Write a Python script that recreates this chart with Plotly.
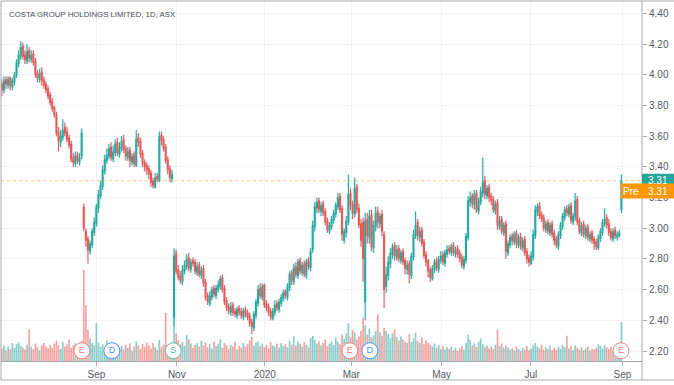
import plotly.graph_objects as go

# ---------------- data (daily bars, Jul 2019 - Sep 2020) ----------------
opens = [
 3.94,3.90,3.97,3.93,3.98,3.92,3.95,4.00,4.07,4.12,
 4.19,4.13,4.09,4.16,4.10,4.14,4.09,4.01,3.97,4.02,
 3.97,3.94,3.91,3.87,3.83,3.79,3.74,3.63,3.56,3.59,
 3.66,3.63,3.59,3.55,3.46,3.42,3.48,3.43,3.47,3.14,
 2.98,2.93,2.85,2.89,2.97,3.03,3.13,3.21,3.27,3.37,
 3.44,3.47,3.53,3.45,3.49,3.56,3.48,3.52,3.58,3.52,
 3.46,3.51,3.43,3.48,3.41,3.59,3.57,3.49,3.43,3.41,
 3.39,3.36,3.31,3.27,3.34,3.31,3.61,3.58,3.53,3.45,
 3.39,3.32,
 2.42,
 2.84,2.73,2.69,2.65,2.72,2.75,2.81,2.73,2.79,2.78,
 2.71,2.76,2.69,2.74,2.65,2.56,2.51,2.55,2.61,2.56,
 2.60,2.62,2.68,2.61,2.53,2.49,2.45,2.50,2.46,2.43,
 2.48,2.46,2.42,2.47,2.45,2.43,2.39,2.35,2.43,2.51,
 2.61,2.55,2.63,2.51,2.49,2.46,2.41,2.45,2.51,2.47,
 2.51,2.54,2.59,2.55,2.61,2.71,2.65,2.75,2.69,2.79,
 2.71,2.77,2.69,2.79,2.74,2.86,3.01,3.13,3.18,3.11,
 3.16,3.11,3.05,2.98,3.01,3.05,3.09,3.14,3.21,3.13,
 2.92,2.97,3.04,3.23,3.16,3.09,3.27,3.13,3.03,3.04,
 2.52,3.06,2.94,3.09,2.87,3.01,3.11,3.03,3.09,2.96,
 2.62,2.69,2.77,2.83,2.89,2.81,2.87,2.79,2.85,2.79,
 2.73,2.77,2.69,2.81,2.95,3.04,2.94,2.99,2.91,2.83,
 2.79,2.73,2.67,2.73,2.79,2.73,2.79,2.83,2.77,2.83,
 2.87,2.84,2.89,2.83,2.87,2.84,2.81,2.75,2.79,2.94,
 3.17,3.21,3.15,3.23,3.11,3.17,3.23,3.31,3.21,3.27,
 3.21,3.19,3.11,3.17,3.01,3.06,2.97,3.03,2.84,2.89,
 2.95,2.91,2.97,2.89,2.95,2.87,2.93,2.85,2.81,2.77,
 2.81,2.95,3.11,3.15,3.09,3.07,2.99,3.04,2.97,3.03,
 2.97,2.93,2.88,2.95,3.01,3.07,3.13,3.09,3.15,3.04,
 3.07,3.19,3.05,2.97,3.03,2.95,3.01,2.93,2.97,2.93,
 2.91,2.87,2.93,2.97,3.03,3.07,3.03,2.98,2.93,2.99,
 2.94,2.95,3.12,
]
highs = [
 3.97,3.99,3.99,3.99,3.99,3.98,4.02,4.10,4.16,4.22,
 4.21,4.16,4.20,4.18,4.16,4.16,4.11,4.03,4.04,4.05,
 3.99,3.96,3.93,3.89,3.85,3.80,3.76,3.66,3.64,3.71,
 3.69,3.66,3.61,3.57,3.49,3.50,3.50,3.49,3.65,3.16,
 3.00,2.95,2.92,3.00,3.07,3.16,3.25,3.31,3.41,3.48,
 3.52,3.55,3.56,3.54,3.58,3.59,3.56,3.60,3.61,3.54,
 3.53,3.53,3.49,3.50,3.64,3.62,3.59,3.51,3.45,3.43,
 3.41,3.38,3.33,3.36,3.36,3.63,3.63,3.60,3.55,3.47,
 3.41,3.38,
 2.87,
 2.86,2.76,2.72,2.76,2.79,2.83,2.84,2.80,2.81,2.80,
 2.78,2.78,2.75,2.76,2.67,2.58,2.59,2.62,2.63,2.63,
 2.66,2.69,2.70,2.63,2.55,2.51,2.52,2.52,2.48,2.49,
 2.50,2.48,2.48,2.49,2.47,2.45,2.41,2.46,2.54,2.63,
 2.64,2.64,2.64,2.53,2.51,2.48,2.48,2.53,2.53,2.54,
 2.57,2.60,2.60,2.64,2.72,2.73,2.77,2.78,2.80,2.81,
 2.78,2.79,2.80,2.81,2.87,3.05,3.17,3.20,3.20,3.17,
 3.18,3.13,3.07,3.04,3.08,3.12,3.17,3.23,3.23,3.15,
 3.00,3.08,3.35,3.26,3.18,3.33,3.29,3.16,3.06,3.07,
 3.10,3.10,3.12,3.12,3.05,3.14,3.14,3.10,3.12,2.98,
 2.75,2.82,2.87,2.90,2.91,2.89,2.89,2.86,2.87,2.81,
 2.79,2.79,2.84,2.99,3.11,3.06,3.01,3.01,2.93,2.85,
 2.80,2.75,2.76,2.80,2.81,2.82,2.85,2.85,2.86,2.89,
 2.89,2.90,2.91,2.88,2.89,2.86,2.83,2.82,2.97,3.21,
 3.24,3.23,3.25,3.25,3.20,3.27,3.46,3.34,3.28,3.29,
 3.23,3.21,3.18,3.19,3.08,3.08,3.04,3.05,2.92,2.96,
 2.97,2.98,2.99,2.96,2.97,2.94,2.95,2.87,2.83,2.85,
 2.99,3.15,3.16,3.17,3.11,3.09,3.05,3.06,3.04,3.05,
 2.99,2.95,2.98,3.04,3.10,3.14,3.15,3.16,3.17,3.10,
 3.23,3.21,3.07,3.04,3.05,3.02,3.03,2.98,2.99,2.95,
 2.93,2.96,3.00,3.06,3.13,3.09,3.06,3.00,3.00,3.01,
 2.98,2.99,3.35,
]
lows = [
 3.86,3.88,3.91,3.91,3.90,3.90,3.93,3.98,4.05,4.10,
 4.10,4.07,4.07,4.08,4.08,4.06,3.98,3.95,3.95,3.93,
 3.91,3.88,3.84,3.80,3.76,3.72,3.60,3.50,3.53,3.57,
 3.60,3.56,3.52,3.43,3.40,3.40,3.42,3.41,3.45,2.98,
 2.88,2.77,2.83,2.87,2.95,3.01,3.10,3.19,3.25,3.35,
 3.42,3.45,3.44,3.43,3.47,3.47,3.46,3.50,3.49,3.44,
 3.44,3.40,3.41,3.40,3.40,3.53,3.46,3.40,3.37,3.35,
 3.32,3.27,3.26,3.26,3.30,3.30,3.54,3.50,3.42,3.35,
 3.30,3.30,
 2.36,
 2.70,2.66,2.64,2.63,2.70,2.73,2.72,2.71,2.75,2.70,
 2.69,2.68,2.67,2.62,2.53,2.50,2.49,2.53,2.55,2.54,
 2.58,2.60,2.58,2.50,2.46,2.44,2.43,2.43,2.42,2.41,
 2.43,2.41,2.40,2.42,2.40,2.36,2.31,2.33,2.41,2.49,
 2.54,2.53,2.48,2.46,2.43,2.40,2.40,2.43,2.46,2.45,
 2.49,2.52,2.54,2.53,2.59,2.63,2.63,2.68,2.67,2.70,
 2.69,2.68,2.67,2.73,2.72,2.84,2.98,3.10,3.10,3.08,
 3.08,3.02,2.97,2.96,2.99,3.03,3.07,3.12,3.10,2.92,
 2.90,2.94,3.02,3.12,3.06,3.07,3.10,3.00,2.88,2.65,
 2.40,2.90,2.90,2.85,2.84,2.98,3.00,3.00,2.95,2.48,
 2.58,2.66,2.74,2.80,2.79,2.79,2.78,2.77,2.76,2.70,
 2.70,2.64,2.67,2.79,2.93,2.92,2.91,2.88,2.80,2.75,
 2.68,2.65,2.66,2.71,2.72,2.71,2.77,2.76,2.75,2.81,
 2.83,2.82,2.82,2.81,2.81,2.78,2.74,2.73,2.77,2.92,
 3.14,3.13,3.12,3.10,3.09,3.15,3.20,3.19,3.19,3.17,
 3.15,3.10,3.09,2.99,2.99,2.96,2.95,2.80,2.82,2.87,
 2.89,2.89,2.87,2.87,2.86,2.85,2.82,2.77,2.75,2.76,
 2.79,2.93,3.08,3.06,3.04,2.98,2.97,2.96,2.95,2.94,
 2.89,2.87,2.86,2.93,2.99,3.05,3.08,3.07,3.03,3.02,
 3.05,3.02,2.96,2.95,2.94,2.93,2.92,2.91,2.90,2.86,
 2.86,2.86,2.91,2.95,3.01,3.00,2.95,2.92,2.91,2.93,
 2.92,2.94,3.10,
]
closes = [
 3.90,3.96,3.94,3.97,3.93,3.96,4.00,4.08,4.13,4.18,
 4.12,4.10,4.15,4.11,4.13,4.08,4.00,3.98,4.01,3.96,
 3.93,3.90,3.86,3.82,3.78,3.74,3.62,3.57,3.60,3.64,
 3.62,3.58,3.54,3.45,3.43,3.47,3.44,3.46,3.62,3.00,
 2.92,2.86,2.90,2.98,3.04,3.14,3.22,3.28,3.38,3.45,
 3.48,3.52,3.46,3.50,3.55,3.49,3.53,3.57,3.51,3.47,
 3.50,3.44,3.47,3.42,3.58,3.56,3.48,3.42,3.40,3.38,
 3.35,3.30,3.28,3.33,3.32,3.60,3.57,3.52,3.44,3.38,
 3.33,3.35,
 2.82,
 2.72,2.68,2.66,2.73,2.76,2.80,2.74,2.78,2.77,2.72,
 2.75,2.70,2.73,2.64,2.55,2.52,2.56,2.60,2.57,2.61,
 2.63,2.67,2.60,2.52,2.48,2.46,2.49,2.45,2.44,2.47,
 2.45,2.43,2.46,2.44,2.42,2.38,2.36,2.44,2.52,2.60,
 2.56,2.62,2.50,2.48,2.45,2.42,2.46,2.50,2.48,2.52,
 2.55,2.58,2.56,2.62,2.70,2.66,2.74,2.70,2.78,2.72,
 2.76,2.70,2.78,2.75,2.85,3.02,3.14,3.17,3.12,3.15,
 3.10,3.04,2.99,3.02,3.06,3.10,3.15,3.20,3.12,2.96,
 2.98,3.05,3.22,3.15,3.10,3.26,3.12,3.02,2.92,2.80,
 3.05,2.95,3.08,2.88,3.02,3.10,3.04,3.08,2.98,2.60,
 2.70,2.78,2.84,2.88,2.82,2.86,2.80,2.84,2.78,2.74,
 2.76,2.70,2.82,2.96,3.02,2.95,2.98,2.90,2.82,2.78,
 2.72,2.68,2.74,2.78,2.74,2.80,2.82,2.78,2.84,2.86,
 2.85,2.88,2.84,2.86,2.83,2.80,2.76,2.80,2.95,3.18,
 3.20,3.16,3.22,3.12,3.18,3.24,3.30,3.22,3.26,3.20,
 3.18,3.12,3.16,3.02,3.05,2.98,3.02,2.85,2.90,2.94,
 2.92,2.96,2.90,2.94,2.88,2.92,2.84,2.80,2.78,2.82,
 2.96,3.12,3.14,3.08,3.06,3.00,3.03,2.98,3.02,2.96,
 2.92,2.89,2.96,3.02,3.08,3.12,3.10,3.14,3.05,3.08,
 3.18,3.04,2.98,3.02,2.96,3.00,2.94,2.96,2.92,2.90,
 2.88,2.94,2.98,3.04,3.06,3.02,2.97,2.94,2.98,2.95,
 2.96,2.97,3.31,
]
volumes_m = [
 2.1,2.6,1.8,2.4,2.0,3.0,2.2,2.8,3.1,2.5,
 2.2,1.9,2.7,5.3,2.4,2.0,2.9,2.3,1.8,2.6,
 3.0,2.4,2.1,2.7,2.2,2.9,3.4,2.6,2.0,3.2,
 2.4,2.8,3.6,2.2,2.6,3.0,2.1,2.5,3.3,15.2,
 9.3,5.2,3.8,3.0,2.6,6.3,3.1,2.4,2.8,2.2,
 3.4,2.0,2.6,1.8,2.3,2.9,2.1,2.5,1.9,2.7,
 2.2,2.9,1.7,2.4,3.3,2.6,2.0,2.8,2.4,3.1,
 2.6,2.1,3.0,2.3,1.9,3.5,2.4,2.7,8.0,2.6,
 2.9,2.2,
 9.0,
 4.6,3.5,2.8,3.2,2.5,4.3,3.6,2.9,2.2,2.7,
 3.0,2.4,3.4,2.6,3.1,2.3,2.8,2.1,3.3,2.5,
 2.9,3.6,2.2,3.0,2.6,2.0,2.7,2.4,3.2,1.9,
 2.5,2.2,3.0,2.4,2.8,3.4,4.0,2.6,3.1,3.3,
 2.5,2.9,2.3,2.7,2.1,3.2,2.6,2.4,2.9,2.2,
 3.0,2.5,2.8,2.3,3.4,2.7,4.1,2.6,3.2,2.9,
 2.4,3.1,2.7,2.3,3.8,4.2,3.5,2.9,3.3,2.6,
 3.0,3.6,2.5,2.9,3.3,2.7,3.9,3.2,2.8,4.4,
 3.7,4.6,6.3,4.0,5.2,4.8,3.6,4.1,5.0,7.2,
 6.0,4.4,5.4,4.0,4.3,5.0,7.8,4.8,4.2,5.5,
 5.0,4.5,3.8,4.6,5.2,4.0,3.4,4.1,3.6,3.2,
 3.0,4.5,3.2,3.8,4.7,3.3,3.0,3.9,2.8,3.4,
 3.0,2.7,2.4,2.9,2.2,2.6,2.0,2.5,1.9,2.3,
 2.0,2.4,1.8,2.2,1.7,2.1,2.5,1.9,3.0,4.4,
 3.5,2.6,2.9,2.4,3.2,3.8,2.8,2.3,2.6,2.1,
 2.4,2.0,2.7,5.2,2.5,2.9,2.2,2.6,2.3,1.9,
 2.1,1.8,2.4,2.0,1.7,2.2,1.9,2.5,1.8,2.1,
 2.6,3.0,2.4,2.1,2.7,1.9,2.3,2.0,2.6,1.8,
 2.2,1.9,2.4,2.0,2.7,2.3,4.2,2.1,2.5,1.8,
 2.6,2.2,1.9,2.3,1.8,2.1,2.4,1.7,2.0,1.9,
 2.2,2.8,2.5,2.1,2.6,2.3,2.0,2.4,1.8,2.1,
 1.9,2.2,6.5,
]
bar_index = list(range(len(closes)))

month_ticks = [45, 83.3, 125.2, 166.4, 209.4, 251.9, 295.5]
month_labels = ["Sep", "Nov", "2020", "Mar", "May", "Jul", "Sep"]
price_ticks = [2.2, 2.4, 2.6, 2.8, 3.0, 3.2, 3.4, 3.6, 3.8, 4.0, 4.2, 4.4]

event_index = [38.1, 52.4, 81.6, 165.7, 175.2, 294.8]
event_letters = ["E", "D", "S", "E", "D", "E"]

last_price = 3.31
pre_price = 3.31
title_text = "COSTA GROUP HOLDINGS LIMITED, 1D, ASX"

# ---------------- styling ----------------
UP = "#26a69a"
DOWN = "#ef5350"
UP_VOL = "rgba(38,166,154,0.55)"
DOWN_VOL = "rgba(239,83,80,0.55)"
GRID = "#f0f3fa"
FRAME = "#a6a9b1"
TXT = "#555a66"
FONT = "Liberation Sans, Arial, sans-serif"
HALO = "rgba(190,228,240,0.45)"

vol_colors = [UP_VOL if c >= o else DOWN_VOL for o, c in zip(opens, closes)]
event_colors = {"E": "#f47c7c", "D": "#4b93f2", "S": "#58b6a8"}

fig = go.Figure()

fig.add_trace(go.Bar(
    x=bar_index, y=volumes_m, marker=dict(color=vol_colors, line=dict(width=0)),
    yaxis="y", xaxis="x", hoverinfo="skip", showlegend=False,
))

# soft halo behind the candles
fig.add_trace(go.Candlestick(
    x=bar_index, open=opens, high=highs, low=lows, close=closes,
    yaxis="y2", xaxis="x", showlegend=False, hoverinfo="skip",
    increasing=dict(line=dict(color=HALO, width=3), fillcolor=HALO),
    decreasing=dict(line=dict(color=HALO, width=3), fillcolor=HALO),
))
fig.add_trace(go.Candlestick(
    x=bar_index, open=opens, high=highs, low=lows, close=closes,
    yaxis="y2", xaxis="x", showlegend=False,
    increasing=dict(line=dict(color=UP, width=1), fillcolor=UP),
    decreasing=dict(line=dict(color=DOWN, width=1), fillcolor=DOWN),
))

fig.add_trace(go.Scatter(
    x=event_index, y=[2.202] * len(event_index), yaxis="y2", xaxis="x",
    mode="markers+text", text=event_letters, textposition="middle center",
    textfont=dict(family=FONT, size=9, color=[event_colors[e] for e in event_letters]),
    marker=dict(size=16, color="white", line=dict(width=1, color=[event_colors[e] for e in event_letters])),
    showlegend=False, hoverinfo="skip", cliponaxis=False,
))

def px_x(px):
    return (px - 1) / 641.0

def px_y(py):
    return (361 - py) / 360.0

shapes = [
    dict(type="line", xref="paper", yref="y2", x0=0, x1=1, y0=last_price, y1=last_price,
         line=dict(color="#ffc27a", width=1, dash="dot"), layer="below"),
    # frame
    dict(type="line", xref="paper", yref="paper", x0=0, x1=px_x(674), y0=1, y1=1, line=dict(color=FRAME, width=1)),
    dict(type="line", xref="paper", yref="paper", x0=0, x1=0, y0=px_y(380), y1=1, line=dict(color=FRAME, width=1)),
    dict(type="line", xref="paper", yref="paper", x0=0, x1=px_x(674), y0=px_y(380), y1=px_y(380), line=dict(color=FRAME, width=1)),
    dict(type="line", xref="paper", yref="paper", x0=1, x1=1, y0=px_y(380), y1=1, line=dict(color=FRAME, width=1)),
    # price labels
    dict(type="rect", xref="paper", yref="y2", x0=1, x1=px_x(675), ysizemode="pixel", yanchor=last_price,
         y0=-7, y1=7, fillcolor=UP, line=dict(width=0)),
    dict(type="rect", xref="paper", yref="y2", x0=px_x(621), x1=px_x(675), ysizemode="pixel", yanchor=3.2424,
         y0=-7.5, y1=7.5, fillcolor="#ff9800", line=dict(width=0)),
]

annotations = [
    dict(text=title_text, xref="paper", yref="paper", x=px_x(7), y=px_y(15), xanchor="left", yanchor="middle",
         showarrow=False, font=dict(family=FONT, size=7.8, color="#4a4e59")),
    dict(text=f"{last_price:.2f}", xref="paper", yref="y2", x=px_x(658), y=last_price, xanchor="center",
         yanchor="middle", showarrow=False, font=dict(family=FONT, size=10, color="white")),
    dict(text="Pre", xref="paper", yref="y2", x=px_x(631), y=3.2424, xanchor="center",
         yanchor="middle", showarrow=False, font=dict(family=FONT, size=10, color="white")),
    dict(text=f"{pre_price:.2f}", xref="paper", yref="y2", x=px_x(658), y=3.2424, xanchor="center",
         yanchor="middle", showarrow=False, font=dict(family=FONT, size=10, color="white")),
]

fig.update_layout(
    width=674, height=385,
    margin=dict(l=1, r=32, t=1, b=24),
    paper_bgcolor="white", plot_bgcolor="white",
    showlegend=False, boxgap=0.35,
    font=dict(family=FONT, size=10, color=TXT),
    xaxis=dict(range=[-0.4, 304.8], tickvals=month_ticks, ticktext=month_labels,
               showgrid=True, gridcolor=GRID, gridwidth=1, zeroline=False,
               showline=True, linecolor=FRAME, linewidth=1,
               ticks="outside", ticklen=4, tickcolor=FRAME,
               tickfont=dict(family=FONT, size=10, color=TXT),
               rangeslider=dict(visible=False), fixedrange=True),
    yaxis=dict(range=[0, 60], visible=False, showgrid=False, zeroline=False, fixedrange=True),
    yaxis2=dict(range=[2.1349, 4.4814], overlaying="y", side="right", tickvals=price_ticks,
                tickformat=".2f", showgrid=True, gridcolor=GRID, zeroline=False,
                showline=False, ticks="outside", ticklen=4, tickcolor=FRAME,
                tickfont=dict(family=FONT, size=10, color=TXT), fixedrange=True),
    shapes=shapes, annotations=annotations,
)

fig.write_html("out.html", config={"displayModeBar": False},
               post_script="document.body.style.margin='0';document.body.style.padding='0';")
